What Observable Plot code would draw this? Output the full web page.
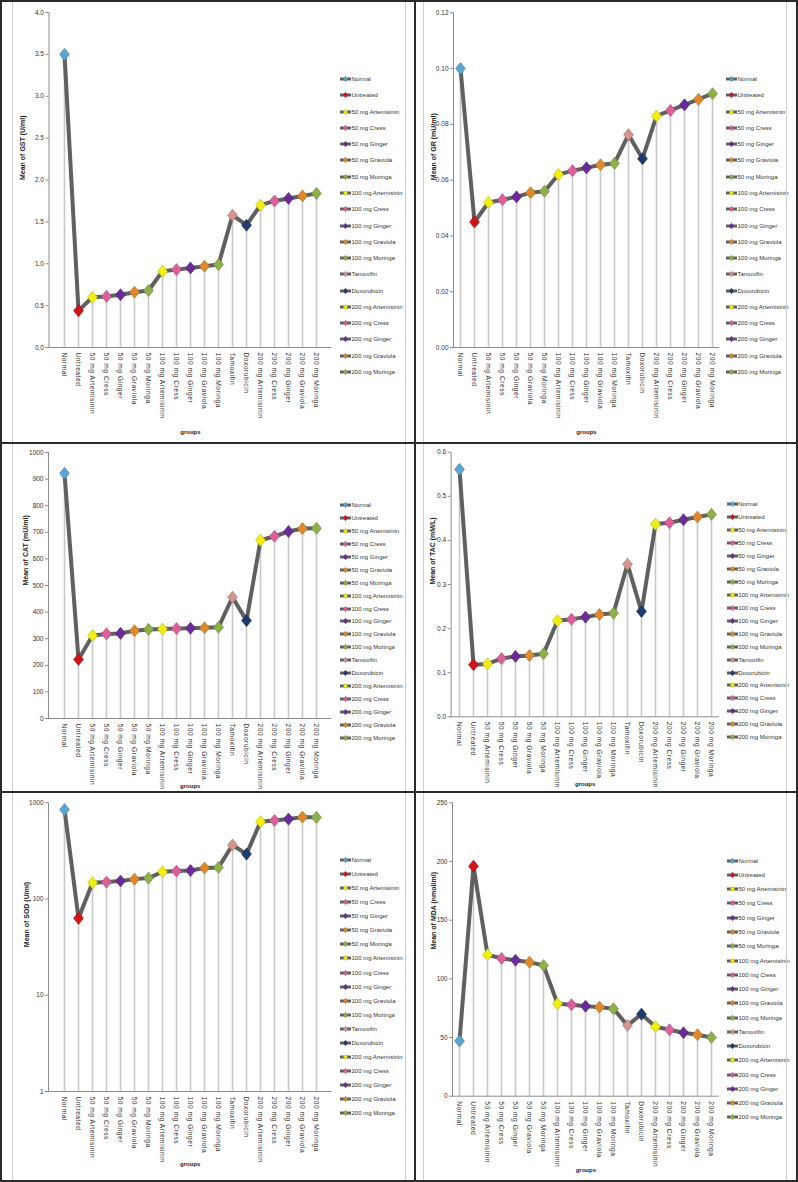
<!DOCTYPE html>
<html><head><meta charset="utf-8">
<script src="https://cdn.jsdelivr.net/npm/d3@7"></script>
<script src="https://cdn.jsdelivr.net/npm/@observablehq/plot@0.6"></script>
<style>
body{margin:0;background:#fff;}
#page{position:relative;width:798px;height:1182px;overflow:hidden;background:#fff;font-family:"Liberation Sans",Arial,sans-serif;}
.cell{position:absolute;}
.cell svg{position:absolute;left:0;top:0;overflow:visible;}
.cell svg g[aria-label="x-axis tick label"] text{letter-spacing:0.55px;font-family:"Liberation Sans",Arial,sans-serif;}
.legend{position:absolute;font-family:"Liberation Sans Narrow","Arial Narrow",sans-serif;font-size:6px;color:#333;}
.li{position:absolute;left:0;display:flex;align-items:center;white-space:nowrap;transform:translateY(-50%);}
.li svg{display:block;margin-right:0.5px;}
.bd{position:absolute;background:#2a2a2a;}
.gl{position:absolute;background:#cfcfcf;}
</style>
</head><body>
<div id="page"></div>
<script>
// ---- data ----
const groups = ["Normal","Untreated","50 mg Artemisinin","50 mg Cress","50 mg Ginger","50 mg Graviola","50 mg Moringa","100 mg Artemisinin","100 mg Cress","100 mg Ginger","100 mg Graviola","100 mg Moringa","Tamoxifin","Doxorubicin","200 mg Artemisinin","200 mg Cress","200 mg Ginger","200 mg Graviola","200 mg Moringa"];
const groupColors = ["#5aa5d0","#d0141a","#f2ee10","#df5f9c","#6a2a9a","#e0892c","#8db04a","#f2ee10","#df5f9c","#6a2a9a","#e0892c","#8db04a","#d4948f","#1f3c6e","#f2ee10","#df5f9c","#6a2a9a","#e0892c","#8db04a"];

const gstValues = [3.50,0.44,0.60,0.61,0.63,0.66,0.68,0.91,0.93,0.95,0.97,0.99,1.58,1.46,1.70,1.75,1.78,1.81,1.84];
const grValues  = [0.100,0.045,0.052,0.053,0.054,0.0555,0.056,0.062,0.0634,0.0644,0.0655,0.066,0.0763,0.0677,0.083,0.085,0.087,0.089,0.091];
const catValues = [922,222,312,318,320,330,335,336,338,339,341,343,456,368,670,685,703,714,715];
const tacValues = [0.561,0.118,0.120,0.132,0.137,0.139,0.143,0.218,0.221,0.226,0.232,0.235,0.346,0.239,0.437,0.440,0.447,0.453,0.459];
const sodValues = [851,63,148,150,154,161,165,192,195,198,210,213,364,293,635,655,677,710,705];
const mdaValues = [47,196,120.5,117.4,115.9,114.2,111.4,78.8,77.9,76.7,75.9,74.5,60.3,69.9,59.2,56.6,54.1,52.4,50.0];

const gstTicks = [0,0.5,1,1.5,2,2.5,3,3.5,4];
const grTicks  = [0,0.02,0.04,0.06,0.08,0.10,0.12];
const catTicks = [0,100,200,300,400,500,600,700,800,900,1000];
const tacTicks = [0,0.1,0.2,0.3,0.4,0.5,0.6];
const sodTicks = [1,10,100,1000];
const mdaTicks = [0,50,100,150,200,250];

const yTitles = ["Mean of GST (U/ml)","Mean of GR (mU/ml)","Mean of CAT (mU/ml)","Mean of TAC (mM/L)","Mean of SOD (U/ml)","Mean of MDA (nmol/ml)"];
const xTitle = "groups";

// ---- layout / style config ----
const panels = [
  {values:gstValues, ticks:gstTicks, fmt:".1f", domain:[0,4], type:"linear", title:yTitles[0],
   cell:[0,0,415,443], m:[12,83.6,96,48.5], tdx:-26, gdy:86, leg:[340,79,16.28]},
  {values:grValues, ticks:grTicks, fmt:".2f", domain:[0,0.12], type:"linear", title:yTitles[1],
   cell:[415,0,383,443], m:[12.3,79,96,38], tdx:-20, gdy:86, leg:[726,79,16.28]},
  {values:catValues, ticks:catTicks, fmt:"d", domain:[0,1000], type:"linear", title:yTitles[2],
   cell:[0,443,415,349], m:[9,83.5,74,48], tdx:-23, gdy:69, leg:[340,505,12.94]},
  {values:tacValues, ticks:tacTicks, fmt:".1f", domain:[0,0.6], type:"linear", title:yTitles[3],
   cell:[415,443,383,349], m:[8.7,79.2,75.7,35.6], tdx:-18, gdy:69, leg:[726.7,504.3,12.94]},
  {values:sodValues, ticks:sodTicks, fmt:"d", domain:[1,1000], type:"log", title:yTitles[4],
   cell:[0,792,415,390], m:[10.3,83.5,91,48], tdx:-22, gdy:74, leg:[340,860,14.07]},
  {values:mdaValues, ticks:mdaTicks, fmt:"d", domain:[0,250], type:"linear", title:yTitles[5],
   cell:[415,792,383,390], m:[10.3,79.3,86.3,37], tdx:-19, gdy:76, leg:[727,860.7,14.26]}
];

const diamond = {draw(ctx, size){const hh=Math.sqrt(size)*0.62, hw=hh*0.82; ctx.moveTo(0,-hh); ctx.lineTo(hw,0); ctx.lineTo(0,hh); ctx.lineTo(-hw,0); ctx.closePath();}};
const sans = "'Liberation Sans', Arial, sans-serif";
const narrow = "'Liberation Sans Narrow', 'Arial Narrow', sans-serif";

const page = document.getElementById("page");

panels.forEach(p => {
  const [cx, cy, cw, ch] = p.cell;
  const [mt, mr, mb, ml] = p.m;
  const data = groups.map((g,i) => ({group:g, value:p.values[i], color:groupColors[i], edge: d3.color(groupColors[i]).darker(0.7).formatHex()}));
  const base = p.type === "log" ? 1 : 0;
  const chart = Plot.plot({
    width: cw, height: ch, marginTop: mt, marginRight: mr, marginBottom: mb, marginLeft: ml,
    style: {background:"none", fontFamily:sans, color:"#333", overflow:"visible"},
    x: {type:"point", domain:groups, padding:0.5, axis:null},
    y: {type:p.type, domain:p.domain, axis:null},
    color: {type:"identity"},
    marks: [
      Plot.ruleX(data, {x:"group", y1:base, y2:"value", stroke:"#c8c8c8", strokeWidth:1.6}),
      Plot.ruleY([base], {stroke:"#8c8c8c", strokeWidth:1}),
      Plot.frame({anchor:"left", stroke:"#8c8c8c", strokeWidth:1}),
      Plot.axisY(p.ticks, {tickFormat:d3.format(p.fmt), tickSize:3, tickPadding:2, fontSize:6.5, stroke:"#8c8c8c", fill:"#333", fontFamily:narrow, label:null}),
      Plot.axisX({tickRotate:90, tickSize:0, tickPadding:5, fontSize:6.6, fill:"#333", fontFamily:sans, label:null}),
      Plot.line(data, {x:"group", y:"value", stroke:"#606060", strokeWidth:4, strokeLinejoin:"round"}),
      Plot.dot(data, {x:"group", y:"value", symbol:diamond, r:5.5, fill:"color", stroke:"edge", strokeWidth:0.6}),
      Plot.text([p.title], {frameAnchor:"left", dx:p.tdx, rotate:-90, fontWeight:"bold", fontSize:7, fill:"#222", fontFamily:sans}),
      Plot.text([xTitle], {frameAnchor:"bottom", dy:p.gdy, fontWeight:"bold", fontSize:6, fill:"#222", fontFamily:sans})
    ]
  });
  const cell = document.createElement("div");
  cell.className = "cell";
  cell.style.left = cx + "px"; cell.style.top = cy + "px";
  cell.style.width = cw + "px"; cell.style.height = ch + "px";
  cell.appendChild(chart);
  page.appendChild(cell);

  // legend
  const [lx, ly, step] = p.leg;
  const leg = document.createElement("div");
  leg.className = "legend";
  leg.style.left = lx + "px"; leg.style.top = "0px";
  groups.forEach((g, i) => {
    const item = document.createElement("div");
    item.className = "li";
    item.style.top = (ly + i*step) + "px";
    item.innerHTML = `<svg width="11" height="8" viewBox="0 0 11 8"><line x1="0" y1="4" x2="11" y2="4" stroke="#606060" stroke-width="3"/><path d="M5.5,1.2 L7.6,4 L5.5,6.8 L3.4,4 Z" fill="${groupColors[i]}" stroke="${d3.color(groupColors[i]).darker(0.7).formatHex()}" stroke-width="0.4"/></svg><span>${g}</span>`;
    leg.appendChild(item);
  });
  page.appendChild(leg);
});

// inner grey chart-area edges
[[12,0,1182],[404.5,0,1182],[423,0,1182],[785.5,0,1182]].forEach(([x,y0,y1]) => {
  const d = document.createElement("div"); d.className = "gl";
  d.style.left = x + "px"; d.style.top = y0 + "px"; d.style.width = "1.2px"; d.style.height = (y1-y0) + "px";
  page.appendChild(d);
});
// dark borders and dividers
[[0,0,798,2],[0,1180,798,2],[0,0,2,1182],[796,0,2,1182],[414,0,2,1182],[0,442,798,2],[0,791,798,2]].forEach(([x,y,w,h]) => {
  const d = document.createElement("div"); d.className = "bd";
  d.style.left = x + "px"; d.style.top = y + "px"; d.style.width = w + "px"; d.style.height = h + "px";
  page.appendChild(d);
});
</script>
</body></html>
